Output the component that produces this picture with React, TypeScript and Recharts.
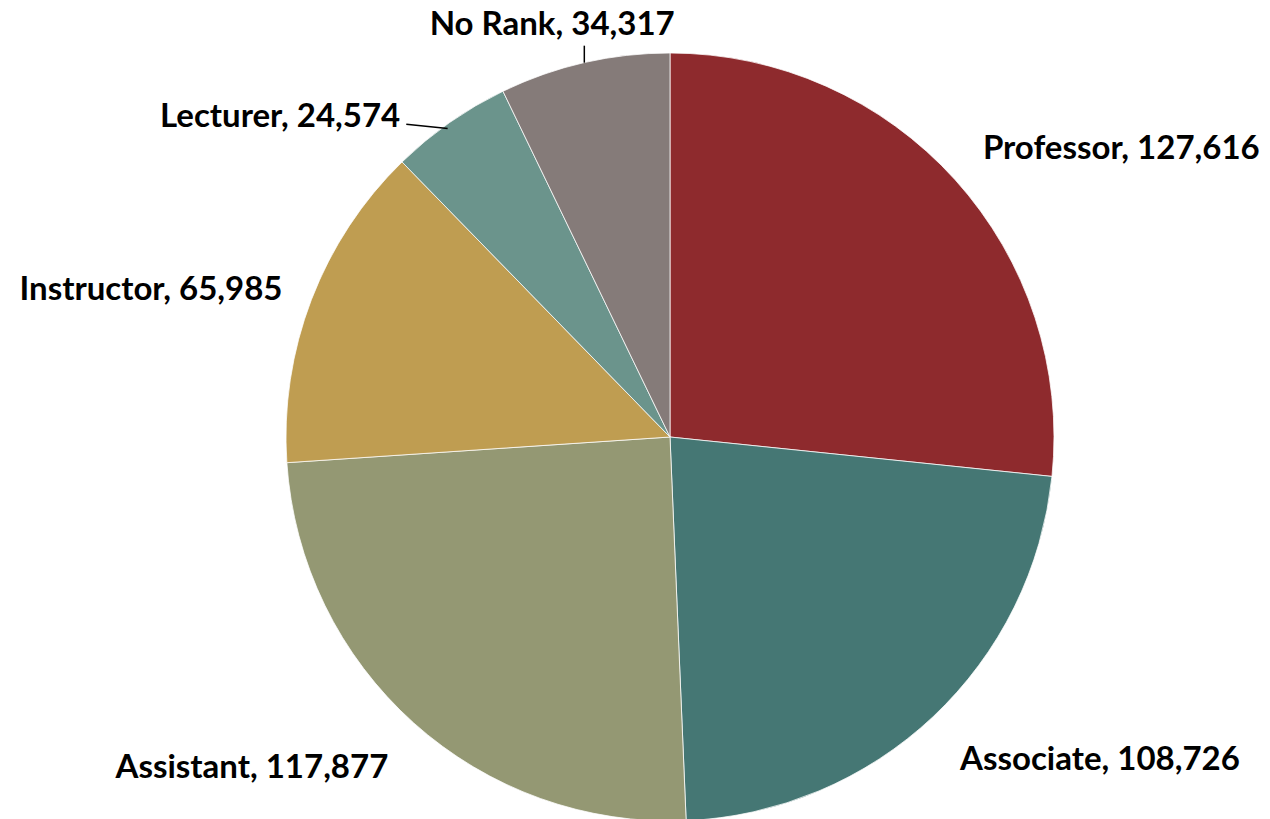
import { PieChart, Pie, Cell } from "recharts"

const ranks = ["Professor", "Associate", "Assistant", "Instructor", "Lecturer", "No Rank"]
const headcounts = [127616, 108726, 117877, 65985, 24574, 34317]
const sliceColors = ["#8E2A2D", "#457774", "#949873", "#BF9D51", "#6B948C", "#857B79"]

const data = ranks.map((name, i) => ({ name, value: headcounts[i] }))

const RADIAN = Math.PI / 180

// fine placement of each label relative to the radial anchor point
const LABEL_OFFSETS: [number, number][] = [
    [4, -12],
    [5, 17],
    [-4, 18],
    [1, -1],
    [-31, 18],
    [-25, -9],
]

const renderLabel = (props: any) => {
    const { cx, cy, midAngle, outerRadius, index, name, value } = props
    const cos = Math.cos(-midAngle * RADIAN)
    const sin = Math.sin(-midAngle * RADIAN)
    const r = outerRadius + 32
    const [dx, dy] = LABEL_OFFSETS[index] ?? [0, 0]
    const x = cx + r * cos + dx
    const y = cy + r * sin + dy
    let anchor: "start" | "end" | "middle" = cos >= 0 ? "start" : "end"
    if (name === "No Rank") anchor = "middle"

    let line = null
    if (name === "Lecturer") {
        const ex = cx + outerRadius * cos
        const ey = cy + outerRadius * sin
        line = <polyline points={`${ex - 2},${ey + 6} ${x + 6},${y + 10}`} stroke="#000" strokeWidth={1.5} fill="none" />
    }
    if (name === "No Rank") {
        const ex = cx + outerRadius * cos
        const ey = cy + outerRadius * sin
        line = <line x1={ex} y1={ey} x2={ex} y2={ey - 17} stroke="#000" strokeWidth={1.5} />
    }

    return (
        <g>
            {line}
            <text
                x={x}
                y={y}
                textAnchor={anchor}
                dominantBaseline="central"
                fill="#000"
                fontFamily="Lato, 'Noto Sans', sans-serif"
                fontWeight={700}
                fontSize={33}
            >
                {`${name}, ${value.toLocaleString("en-US")}`}
            </text>
        </g>
    )
}

export default function App() {
    return (
        <div style={{ position: "absolute", left: 0, top: 0, width: 1270, height: 819, background: "#fff" }}>
            <PieChart width={1270} height={819} margin={{ top: 0, right: 0, bottom: 0, left: 0 }}>
                <Pie
                    data={data}
                    dataKey="value"
                    nameKey="name"
                    cx={670}
                    cy={437}
                    outerRadius={384}
                    startAngle={90}
                    endAngle={-270}
                    stroke="#ffffff"
                    strokeWidth={0.75}
                    label={renderLabel}
                    labelLine={false}
                    isAnimationActive={false}
                >
                    {data.map((entry, i) => (
                        <Cell key={entry.name} fill={sliceColors[i]} />
                    ))}
                </Pie>
            </PieChart>
        </div>
    )
}
